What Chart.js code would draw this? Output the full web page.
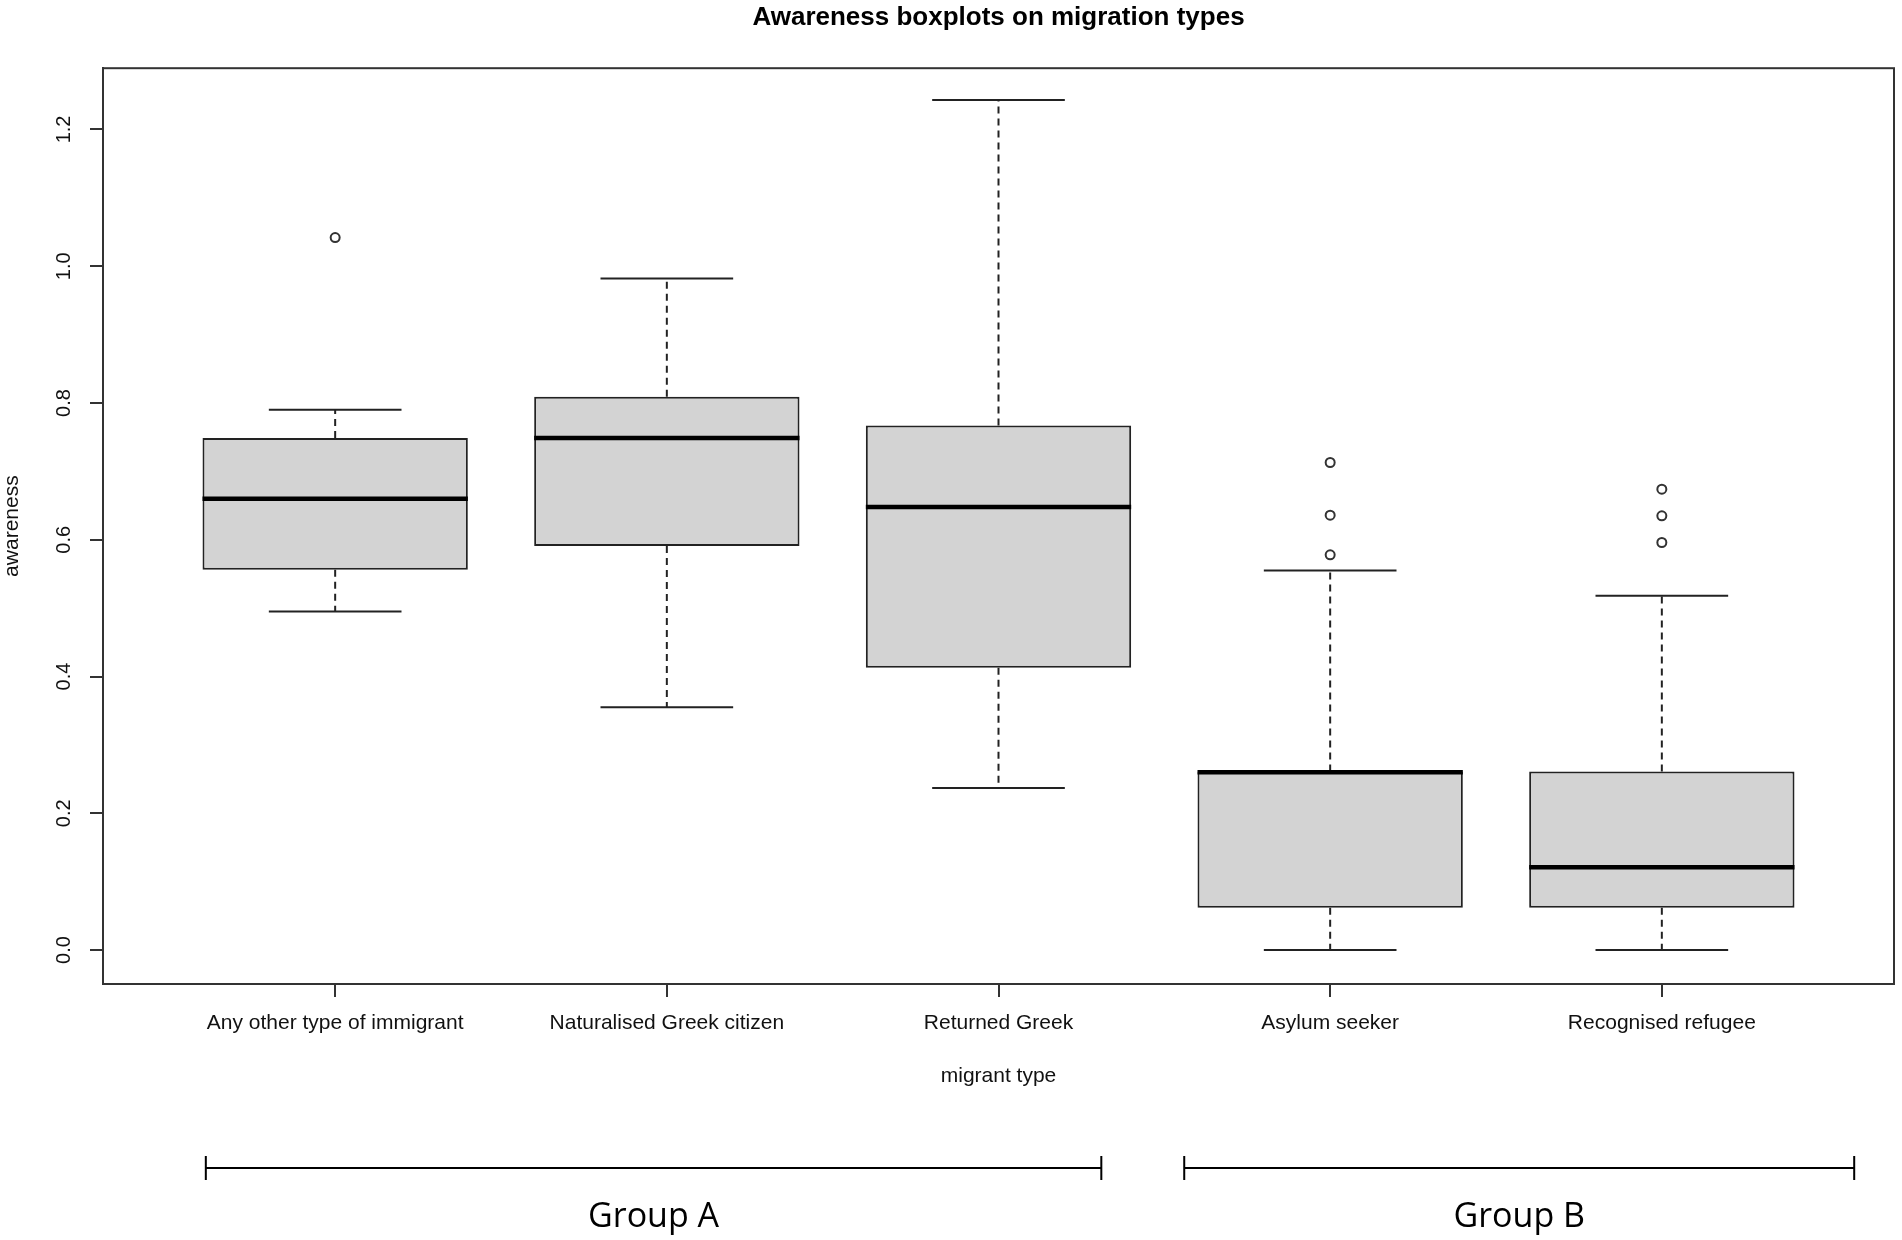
<!DOCTYPE html>
<html>
<head>
<meta charset="utf-8">
<title>Awareness boxplots on migration types</title>
<script src="https://cdn.jsdelivr.net/npm/chart.js@4.4.1/dist/chart.umd.min.js"></script>
<style>
  html, body { margin: 0; padding: 0; background: #fff; }
  canvas { display: block; }
</style>
</head>
<body>
<canvas id="boxChart" width="1902" height="1240"></canvas>
<script>
// values
const categories = [
  "Any other type of immigrant",
  "Naturalised Greek citizen",
  "Returned Greek",
  "Asylum seeker",
  "Recognised refugee"
];
const whiskerLow  = [0.495, 0.355, 0.237, 0.0, 0.0];
const q1          = [0.556, 0.591, 0.413, 0.062, 0.062];
const median      = [0.660, 0.749, 0.648, 0.260, 0.121];
const q3          = [0.749, 0.809, 0.767, 0.261, 0.261];
const whiskerHigh = [0.790, 0.982, 1.243, 0.555, 0.518];
const outliers    = [[1.042], [], [], [0.713, 0.636, 0.578], [0.674, 0.635, 0.596]];
const yTicks = [0, 0.2, 0.4, 0.6, 0.8, 1.0, 1.2];
const groupLabels = ["Group A", "Group B"];

// layout (x axis units)
const groupSpans = [[0.61, 3.31], [3.56, 5.58]];
const BOX_HALF = 0.4;
const CAP_HALF = 0.2;

const boxData = categories.map((c, i) => ({ x: i + 1, y: [q1[i], q3[i]] }));

const medianData = categories.flatMap((c, i) => [
  { x: i + 1 - BOX_HALF, y: median[i] },
  { x: i + 1 + BOX_HALF, y: median[i] },
  { x: i + 1.5, y: null }
]);

const whiskerData = categories.flatMap((c, i) => [
  { x: i + 1, y: q3[i] },
  { x: i + 1, y: whiskerHigh[i] },
  { x: i + 1, y: null },
  { x: i + 1, y: q1[i] },
  { x: i + 1, y: whiskerLow[i] },
  { x: i + 1, y: null }
]);

const capData = categories.flatMap((c, i) => [
  { x: i + 1 - CAP_HALF, y: whiskerHigh[i] },
  { x: i + 1 + CAP_HALF, y: whiskerHigh[i] },
  { x: i + 1, y: null },
  { x: i + 1 - CAP_HALF, y: whiskerLow[i] },
  { x: i + 1 + CAP_HALF, y: whiskerLow[i] },
  { x: i + 1.5, y: null }
]);

const outlierData = outliers.flatMap((vals, i) => vals.map(v => ({ x: i + 1, y: v })));

const framePlugin = {
  id: "frame",
  afterDatasetsDraw(chart) {
    const { ctx, chartArea: a } = chart;
    ctx.save();
    ctx.strokeStyle = "#333";
    ctx.lineWidth = 2;
    ctx.strokeRect(a.left, a.top, a.right - a.left, a.bottom - a.top);
    ctx.restore();
  }
};

const groupPlugin = {
  id: "groups",
  afterDraw(chart) {
    const { ctx, chartArea } = chart;
    const xs = chart.scales.x;
    const lineY = chartArea.bottom + 184;
    ctx.save();
    ctx.strokeStyle = "#000";
    ctx.lineWidth = 2;
    ctx.fillStyle = "#000";
    ctx.font = "34px 'Open Sans'";
    ctx.textAlign = "center";
    ctx.textBaseline = "middle";
    groupLabels.forEach((label, i) => {
      const x0 = xs.getPixelForValue(groupSpans[i][0]);
      const x1 = xs.getPixelForValue(groupSpans[i][1]);
      ctx.beginPath();
      ctx.moveTo(x0, lineY);
      ctx.lineTo(x1, lineY);
      ctx.moveTo(x0, lineY - 12);
      ctx.lineTo(x0, lineY + 12);
      ctx.moveTo(x1, lineY - 12);
      ctx.lineTo(x1, lineY + 12);
      ctx.stroke();
      ctx.fillText(label, (x0 + x1) / 2, lineY + 49);
    });
    ctx.restore();
  }
};

Chart.defaults.font.family = "'Liberation Sans', Arial, sans-serif";
Chart.defaults.color = "#111";

new Chart(document.getElementById("boxChart"), {
  type: "bar",
  data: {
    datasets: [
      {
        type: "bar",
        data: boxData,
        backgroundColor: "#d3d3d3",
        borderColor: "#222",
        borderWidth: 2,
        borderSkipped: false,
        barPercentage: 0.8,
        categoryPercentage: 1.0,
        order: 5
      },
      {
        type: "line",
        data: whiskerData,
        borderColor: "#222",
        borderWidth: 2,
        borderDash: [7, 5],
        pointRadius: 0,
        spanGaps: false,
        order: 4
      },
      {
        type: "line",
        data: capData,
        borderColor: "#222",
        borderWidth: 2,
        pointRadius: 0,
        spanGaps: false,
        order: 3
      },
      {
        type: "line",
        data: medianData,
        borderColor: "#000",
        borderWidth: 4.5,
        pointRadius: 0,
        spanGaps: false,
        order: 1
      },
      {
        type: "scatter",
        data: outlierData,
        pointRadius: 4.5,
        pointBorderWidth: 2,
        pointBorderColor: "#333",
        pointBackgroundColor: "#fff",
        order: 0
      }
    ]
  },
  options: {
    responsive: false,
    devicePixelRatio: 1,
    animation: false,
    layout: { padding: { left: 0, right: 8, top: 0, bottom: 0 } },
    plugins: {
      legend: { display: false },
      tooltip: { enabled: false },
      title: {
        display: true,
        fullSize: false,
        text: "Awareness boxplots on migration types",
        color: "#000",
        font: { size: 26, weight: "bold" },
        padding: { top: 2, bottom: 35 }
      }
    },
    scales: {
      x: {
        type: "linear",
        min: 0.3,
        max: 5.7,
        offset: false,
        afterBuildTicks: s => { s.ticks = categories.map((c, i) => ({ value: i + 1 })); },
        afterFit: s => { s.height = 256; },
        ticks: {
          callback: v => categories[Math.round(v) - 1],
          autoSkip: false,
          maxRotation: 0,
          minRotation: 0,
          padding: 14,
          font: { size: 21 }
        },
        grid: { offset: false, drawOnChartArea: false, drawTicks: true, tickLength: 13, color: "#333", lineWidth: 2 },
        border: { display: true, color: "#333", width: 2 },
        title: {
          display: true,
          text: "migrant type",
          font: { size: 21 },
          padding: { top: 0, bottom: 151 }
        }
      },
      y: {
        type: "linear",
        min: -0.0496,
        max: 1.2896,
        afterBuildTicks: s => { s.ticks = yTicks.map(v => ({ value: v })); },
        afterFit: s => { s.width = 103; },
        ticks: {
          callback: v => Number(v).toFixed(1),
          minRotation: 90,
          maxRotation: 90,
          crossAlign: "center",
          padding: 12,
          font: { size: 20 }
        },
        grid: { drawOnChartArea: false, drawTicks: true, tickLength: 13, color: "#333", lineWidth: 2 },
        border: { display: true, color: "#333", width: 2 },
        title: {
          display: true,
          text: "awareness",
          font: { size: 21 },
          padding: { top: 0, bottom: 0 }
        }
      }
    }
  },
  plugins: [framePlugin, groupPlugin]
});
</script>
</body>
</html>
